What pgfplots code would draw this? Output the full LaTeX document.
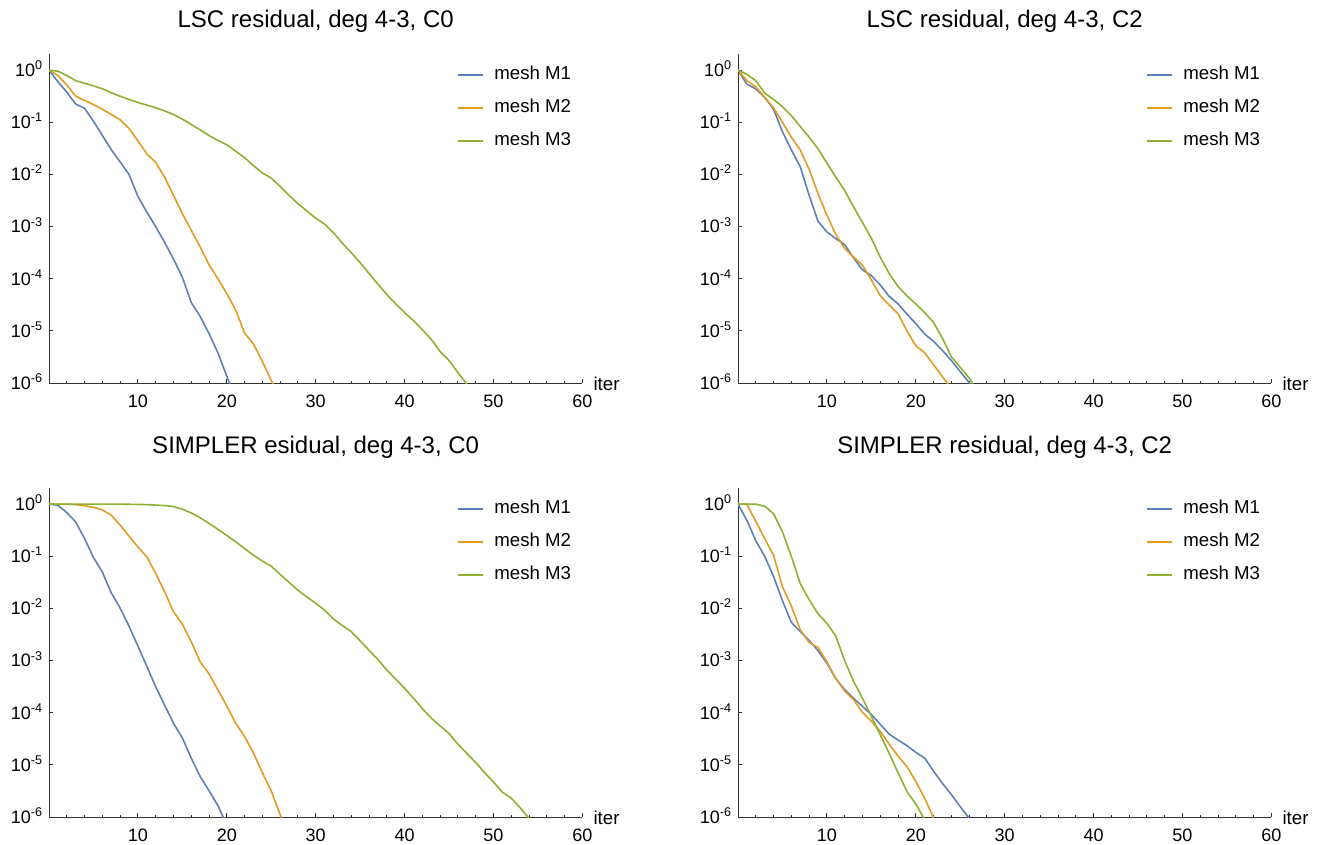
\documentclass[border=0pt]{standalone}
\usepackage{fontspec}
\setmainfont{Liberation Sans}
\usepackage{pgfplots}
\pgfplotsset{compat=1.18}

\definecolor{cM1}{RGB}{94,129,181}
\definecolor{cM2}{RGB}{225,156,36}
\definecolor{cM3}{RGB}{143,176,50}

\pgfplotsset{
  resid/.style={
    scale only axis, width=400pt, height=246.4pt,
    xmin=0, xmax=60, ymin=1e-6, ymax=2,
    enlargelimits=false,
    axis x line=bottom, axis y line=left,
    axis line style={-, black!80, line width=0.7pt},
    tick align=inside, major tick length=3pt, minor tick length=1.75pt,
    every tick/.append style={black!80, line width=0.6pt},
    xtick={10,20,30,40,50,60},
    xticklabels={10,20,30,40,50,60},
    minor xtick={2,4,6,8,12,14,16,18,22,24,26,28,32,34,36,38,42,44,46,48,52,54,56,58},
    ytick={1e-6,1e-5,1e-4,1e-3,1e-2,1e-1,1},
    yticklabels={10\textsuperscript{-6},10\textsuperscript{-5},10\textsuperscript{-4},10\textsuperscript{-3},10\textsuperscript{-2},10\textsuperscript{-1},10\textsuperscript{0}},
    yminorticks=false,
    xticklabel style={font=\fontsize{13.5}{15}\selectfont, anchor=north, inner sep=0pt, yshift=-9pt},
    yticklabel style={font=\fontsize{13.5}{15}\selectfont, anchor=base east, inner sep=0pt, xshift=-4.5pt, yshift=-4.8pt},
    xlabel={iter},
    xlabel style={at={(rel axis cs:1,0)}, anchor=base west, inner sep=0pt, xshift=8.25pt, yshift=-5.25pt, font=\fontsize{14}{16}\selectfont},
    title style={at={(0.5,1)}, anchor=base, inner sep=0pt, font=\fontsize{18}{21}\selectfont},
    legend cell align=left,
    legend style={at={(0.764,0.965)}, anchor=north west, draw=none, fill=none,
      inner sep=0pt, outer sep=0pt, row sep=11.75pt,
      font=\fontsize{14}{16}\selectfont,
      nodes={inner sep=0pt, text height=10pt, text depth=3pt}},
  },
  l1/.style={color=cM1, line width=1.2pt, mark=none, line join=round},
  l2/.style={color=cM2, line width=1.2pt, mark=none, line join=round},
  l3/.style={color=cM3, line width=1.2pt, mark=none, line join=round},
  legend image code/.code={\draw[#1, line width=1.6pt] (0pt,0pt) -- (18.75pt,0pt); \path (27pt,0pt);},
}

\begin{document}
\begin{tikzpicture}
\path[use as bounding box] (0pt,0pt) rectangle (991.5pt,-633.75pt);

% LSC, C0
\begin{axis}[ymode=log, resid, at={(36.75pt,-287.25pt)}, anchor=south west,
  title={LSC residual, deg 4-3, C0}, title style={yshift=14.5pt}]
\addplot[l1] coordinates {(0,1) (1,0.60) (2,0.38) (3,0.224) (4,0.186) (5,0.105) (6,0.056) (7,0.030) (8,0.0174) (9,0.010) (10,3.8e-3) (11,1.9e-3) (12,1.0e-3) (13,5.0e-4) (14,2.4e-4) (15,1.07e-4) (16,3.5e-5) (17,1.9e-5) (18,8.9e-6) (19,3.8e-6) (20,1.35e-6) (21,5.0e-7)};
\addplot[l2] coordinates {(0,1) (1,0.79) (2,0.52) (3,0.316) (4,0.263) (5,0.219) (6,0.178) (7,0.141) (8,0.112) (9,0.076) (10,0.044) (11,0.025) (12,0.017) (13,8.9e-3) (14,4.0e-3) (15,1.78e-3) (16,8.5e-4) (17,4.1e-4) (18,1.86e-4) (19,1.0e-4) (20,5.2e-5) (21,2.5e-5) (22,9.1e-6) (23,5.6e-6) (24,2.6e-6) (25,1.12e-6) (26,5.0e-7)};
\addplot[l3] coordinates {(0,1) (1,0.955) (2,0.79) (3,0.63) (4,0.56) (5,0.50) (6,0.44) (7,0.37) (8,0.316) (9,0.275) (10,0.24) (11,0.214) (12,0.19) (13,0.166) (14,0.141) (15,0.115) (16,0.091) (17,0.072) (18,0.056) (19,0.045) (20,0.037) (21,0.028) (22,0.021) (23,0.0148) (24,0.0107) (25,8.5e-3) (26,5.9e-3) (27,4.0e-3) (28,2.75e-3) (29,2.0e-3) (30,1.45e-3) (31,1.12e-3) (32,7.6e-4) (33,4.8e-4) (34,3.16e-4) (35,2.04e-4) (36,1.26e-4) (37,7.9e-5) (38,5.0e-5) (39,3.3e-5) (40,2.24e-5) (41,1.58e-5) (42,1.05e-5) (43,6.9e-6) (44,4.0e-6) (45,2.7e-6) (46,1.58e-6) (47,9.5e-7) (48,5.0e-7)};
\legend{mesh M1,mesh M2,mesh M3}
\end{axis}

% LSC, C2
\begin{axis}[ymode=log, resid, at={(553.5pt,-287.25pt)}, anchor=south west,
  title={LSC residual, deg 4-3, C2}, title style={yshift=14.5pt}]
\addplot[l1] coordinates {(0,1) (1,0.537) (2,0.437) (3,0.302) (4,0.178) (5,0.066) (6,0.0295) (7,0.0141) (8,4.0e-3) (9,1.26e-3) (10,7.9e-4) (11,5.9e-4) (12,4.5e-4) (13,2.5e-4) (14,1.48e-4) (15,1.15e-4) (16,7.6e-5) (17,4.6e-5) (18,3.3e-5) (19,2.1e-5) (20,1.38e-5) (21,8.7e-6) (22,6.3e-6) (23,4.2e-6) (24,2.7e-6) (25,1.66e-6) (26,1.02e-6) (27,5.0e-7)};
\addplot[l2] coordinates {(0,1) (1,0.63) (2,0.479) (3,0.302) (4,0.19) (5,0.10) (6,0.052) (7,0.0295) (8,0.0126) (9,4.3e-3) (10,1.66e-3) (11,7.1e-4) (12,3.8e-4) (13,2.6e-4) (14,1.82e-4) (15,9.5e-5) (16,4.7e-5) (17,3.16e-5) (18,2.14e-5) (19,1.0e-5) (20,5.2e-6) (21,3.8e-6) (22,2.24e-6) (23,1.32e-6) (24,7.9e-7)};
\addplot[l3] coordinates {(0,1) (1,0.83) (2,0.63) (3,0.363) (4,0.275) (5,0.20) (6,0.135) (7,0.083) (8,0.052) (9,0.031) (10,0.0166) (11,8.9e-3) (12,4.9e-3) (13,2.4e-3) (14,1.2e-3) (15,6.0e-4) (16,2.6e-4) (17,1.26e-4) (18,7.1e-5) (19,4.7e-5) (20,3.3e-5) (21,2.24e-5) (22,1.45e-5) (23,7.2e-6) (24,3.2e-6) (25,2.0e-6) (26,1.26e-6) (27,6.3e-7)};
\legend{mesh M1,mesh M2,mesh M3}
\end{axis}

% SIMPLER, C0
\begin{axis}[ymode=log, resid, at={(36.75pt,-612.75pt)}, anchor=south west,
  title={SIMPLER esidual, deg 4-3, C0}, title style={yshift=20.5pt}]
\addplot[l1] coordinates {(0,1) (1,0.955) (2,0.69) (3,0.457) (4,0.219) (5,0.095) (6,0.050) (7,0.020) (8,0.0102) (9,4.6e-3) (10,1.9e-3) (11,7.8e-4) (12,3.16e-4) (13,1.41e-4) (14,6.3e-5) (15,3.3e-5) (16,1.35e-5) (17,6.0e-6) (18,3.2e-6) (19,1.66e-6) (20,7.1e-7)};
\addplot[l2] coordinates {(0,1) (1,1) (2,1) (3,0.977) (4,0.933) (5,0.871) (6,0.776) (7,0.617) (8,0.398) (9,0.245) (10,0.151) (11,0.098) (12,0.047) (13,0.021) (14,8.7e-3) (15,5.0e-3) (16,2.3e-3) (17,9.5e-4) (18,5.6e-4) (19,2.75e-4) (20,1.35e-4) (21,6.3e-5) (22,3.5e-5) (23,1.7e-5) (24,7.1e-6) (25,3.16e-6) (26,1.12e-6) (27,4.0e-7)};
\addplot[l3] coordinates {(0,1) (2,1) (4,1) (6,1) (8,1) (10,0.99) (11,0.98) (12,0.96) (13,0.94) (14,0.90) (15,0.80) (16,0.68) (17,0.55) (18,0.427) (19,0.331) (20,0.251) (21,0.19) (22,0.141) (23,0.105) (24,0.081) (25,0.065) (26,0.045) (27,0.0316) (28,0.0224) (29,0.0166) (30,0.0126) (31,9.3e-3) (32,6.3e-3) (33,4.7e-3) (34,3.6e-3) (35,2.4e-3) (36,1.58e-3) (37,1.05e-3) (38,6.6e-4) (39,4.4e-4) (40,2.95e-4) (41,1.9e-4) (42,1.2e-4) (43,7.9e-5) (44,5.6e-5) (45,4.0e-5) (46,2.5e-5) (47,1.66e-5) (48,1.12e-5) (49,7.1e-6) (50,4.7e-6) (51,3.0e-6) (52,2.3e-6) (53,1.51e-6) (54,9.5e-7) (55,5.0e-7)};
\legend{mesh M1,mesh M2,mesh M3}
\end{axis}

% SIMPLER, C2
\begin{axis}[ymode=log, resid, at={(553.5pt,-612.75pt)}, anchor=south west,
  title={SIMPLER residual, deg 4-3, C2}, title style={yshift=20.5pt}]
\addplot[l1] coordinates {(0,1) (1,0.49) (2,0.20) (3,0.10) (4,0.041) (5,0.0141) (6,5.4e-3) (7,3.6e-3) (8,2.45e-3) (9,1.55e-3) (10,8.9e-4) (11,4.5e-4) (12,2.8e-4) (13,1.9e-4) (14,1.32e-4) (15,9.3e-5) (16,6.0e-5) (17,3.9e-5) (18,3.0e-5) (19,2.34e-5) (20,1.74e-5) (21,1.35e-5) (22,7.6e-6) (23,4.4e-6) (24,2.7e-6) (25,1.58e-6) (26,9.5e-7)};
\addplot[l2] coordinates {(0,1) (1,1) (2,0.468) (3,0.219) (4,0.105) (5,0.026) (6,0.0112) (7,3.9e-3) (8,2.24e-3) (9,1.78e-3) (10,9.5e-4) (11,4.5e-4) (12,2.6e-4) (13,1.78e-4) (14,1.02e-4) (15,6.9e-5) (16,4.4e-5) (17,2.5e-5) (18,1.48e-5) (19,9.3e-6) (20,4.8e-6) (21,2.3e-6) (22,9.5e-7)};
\addplot[l3] coordinates {(0,1) (1,1) (2,1) (3,0.912) (4,0.66) (5,0.295) (6,0.10) (7,0.030) (8,0.0148) (9,7.9e-3) (10,5.2e-3) (11,2.95e-3) (12,1.0e-3) (13,4.0e-4) (14,1.9e-4) (15,8.5e-5) (16,3.8e-5) (17,1.66e-5) (18,7.1e-6) (19,3.1e-6) (20,1.78e-6) (21,8.9e-7)};
\legend{mesh M1,mesh M2,mesh M3}
\end{axis}
\end{tikzpicture}
\end{document}
